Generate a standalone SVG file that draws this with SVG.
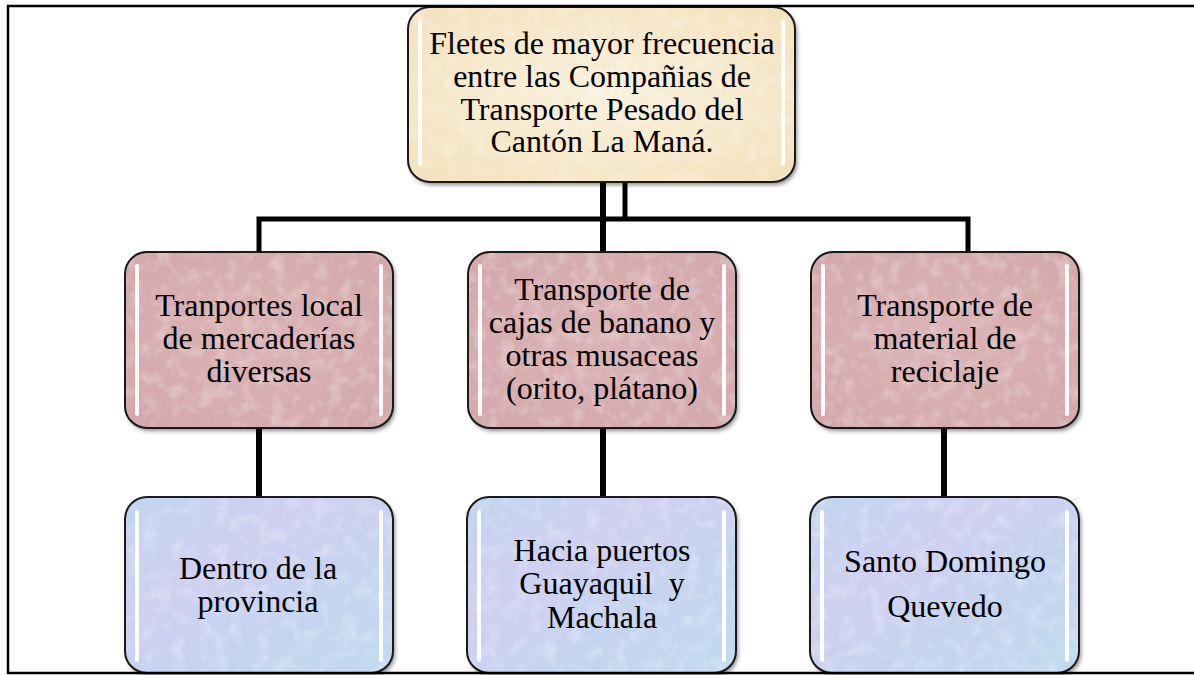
<svg xmlns="http://www.w3.org/2000/svg" width="1194" height="675" viewBox="0 0 1194 675">
<defs>
<style>
.t{font-family:"Liberation Serif","Times New Roman",serif;font-size:32px;fill:#000;text-anchor:middle}
.ol{fill:none;stroke:#1a1a1a;stroke-width:2}
.top{fill:url(#gTop);filter:url(#sh)}
.mid{fill:url(#gMid);filter:url(#sh)}
.bot{fill:url(#gBot);filter:url(#sh)}
.hl{stroke:#ffffff;stroke-width:4;stroke-linecap:round;opacity:0.95}
.con{fill:none;stroke:#000;stroke-width:5;stroke-linejoin:miter}
</style>
<radialGradient id="gTop" cx="50%" cy="50%" r="65%">
<stop offset="0" stop-color="#faf1dc"/><stop offset="1" stop-color="#f3e2be"/>
</radialGradient>
<radialGradient id="gMid" cx="50%" cy="50%" r="65%">
<stop offset="0" stop-color="#dcb4b6"/><stop offset="1" stop-color="#d4a8aa"/>
</radialGradient>
<linearGradient id="gBot" x1="0" y1="0" x2="1" y2="1">
<stop offset="0" stop-color="#c0d5f1"/><stop offset="0.35" stop-color="#cfd0f0"/><stop offset="0.65" stop-color="#c5d4f0"/><stop offset="1" stop-color="#c1daf0"/>
</linearGradient>
<filter id="sh" x="-5%" y="-5%" width="115%" height="120%">
<feTurbulence type="fractalNoise" baseFrequency="0.07" numOctaves="3" seed="4" result="n"/>
<feColorMatrix in="n" type="matrix" values="0 0 0 0 1  0 0 0 0 1  0 0 0 0 1  0.6 0 0 0 -0.28" result="w"/>
<feComposite in="w" in2="SourceGraphic" operator="atop" result="tex"/>
<feGaussianBlur in="SourceAlpha" stdDeviation="2" result="b"/>
<feOffset in="b" dx="2" dy="3" result="o"/>
<feComponentTransfer in="o" result="s"><feFuncA type="linear" slope="0.45"/></feComponentTransfer>
<feMerge><feMergeNode in="s"/><feMergeNode in="tex"/></feMerge>
</filter>
</defs>
<rect width="1194" height="675" fill="#fff"/>

<g id="connectors">
<path class="con" d="M259,252 V219 H968 V252"/>
<path class="con" d="M625,182 V219"/>
<path class="con" style="stroke-width:6" d="M603,182 V252"/>
<path class="con" style="stroke-width:6" d="M259,428 V497"/>
<path class="con" style="stroke-width:6" d="M603,428 V497"/>
<path class="con" style="stroke-width:6" d="M944,428 V497"/>
</g>

<g id="node-top">
<rect class="top" x="408" y="7" width="387" height="175" rx="22"/>
<rect class="ol" x="408" y="7" width="387" height="175" rx="22"/>
<line class="hl" x1="420" y1="22" x2="420" y2="164"/>
<line class="hl" x1="783" y1="22" x2="783" y2="164"/>
<text class="t" x="602" y="53.5">Fletes de mayor frecuencia</text>
<text class="t" x="602" y="86.5">entre las Compañias de</text>
<text class="t" x="602" y="119.5">Transporte Pesado del</text>
<text class="t" x="602" y="152">Cantón La Maná.</text>
</g>

<g id="node-mid-left">
<rect class="mid" x="125" y="252" width="268" height="176" rx="22"/>
<rect class="ol" x="125" y="252" width="268" height="176" rx="22"/>
<line class="hl" x1="137" y1="266" x2="137" y2="414"/>
<line class="hl" x1="381" y1="266" x2="381" y2="414"/>
<text class="t" x="259" y="316">Tranportes local</text>
<text class="t" x="259" y="349">de mercaderías</text>
<text class="t" x="259" y="382">diversas</text>
</g>

<g id="node-mid-center">
<rect class="mid" x="468" y="252" width="268" height="176" rx="22"/>
<rect class="ol" x="468" y="252" width="268" height="176" rx="22"/>
<line class="hl" x1="480" y1="266" x2="480" y2="414"/>
<line class="hl" x1="724" y1="266" x2="724" y2="414"/>
<text class="t" x="602" y="300">Transporte de</text>
<text class="t" x="602" y="333">cajas de banano y</text>
<text class="t" x="602" y="366">otras musaceas</text>
<text class="t" x="602" y="399">(orito, plátano)</text>
</g>

<g id="node-mid-right">
<rect class="mid" x="811" y="252" width="268" height="176" rx="22"/>
<rect class="ol" x="811" y="252" width="268" height="176" rx="22"/>
<line class="hl" x1="823" y1="266" x2="823" y2="414"/>
<line class="hl" x1="1067" y1="266" x2="1067" y2="414"/>
<text class="t" x="945" y="316">Transporte de</text>
<text class="t" x="945" y="349">material de</text>
<text class="t" x="945" y="382">reciclaje</text>
</g>

<g id="node-bot-left">
<rect class="bot" x="125" y="497" width="268" height="176" rx="22"/>
<rect class="ol" x="125" y="497" width="268" height="176" rx="22"/>
<line class="hl" x1="137" y1="512" x2="137" y2="660"/>
<line class="hl" x1="381" y1="512" x2="381" y2="660"/>
<text class="t" x="258" y="579">Dentro de la</text>
<text class="t" x="258" y="612">provincia</text>
</g>

<g id="node-bot-center">
<rect class="bot" x="467" y="497" width="269" height="176" rx="22"/>
<rect class="ol" x="467" y="497" width="269" height="176" rx="22"/>
<line class="hl" x1="479" y1="512" x2="479" y2="660"/>
<line class="hl" x1="724" y1="512" x2="724" y2="660"/>
<text class="t" x="602" y="561">Hacia puertos</text>
<text class="t" x="602" y="594" xml:space="preserve">Guayaquil  y</text>
<text class="t" x="602" y="628">Machala</text>
</g>

<g id="node-bot-right">
<rect class="bot" x="810" y="497" width="269" height="176" rx="22"/>
<rect class="ol" x="810" y="497" width="269" height="176" rx="22"/>
<line class="hl" x1="822" y1="512" x2="822" y2="660"/>
<line class="hl" x1="1067" y1="512" x2="1067" y2="660"/>
<text class="t" x="945" y="572">Santo Domingo</text>
<text class="t" x="945" y="617">Quevedo</text>
</g>

<path id="frame" d="M1196,6 H8 V673 H1196" fill="none" stroke="#000" stroke-width="2.5"/>
</svg>
